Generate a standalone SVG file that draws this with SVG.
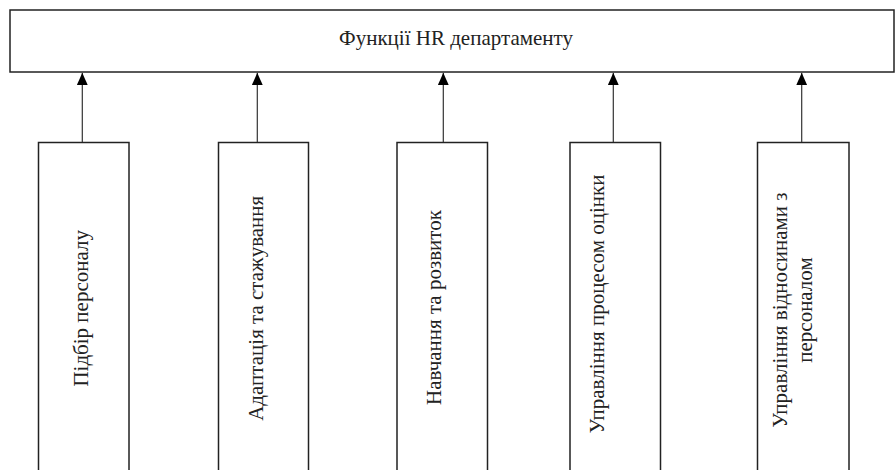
<svg xmlns="http://www.w3.org/2000/svg" width="895" height="470" viewBox="0 0 895 470">
  <style>
    .box { fill: #ffffff; stroke: #222222; stroke-width: 1.5; }
    .lbl { font-family: "Liberation Serif", "Times New Roman", serif; font-size: 21px; fill: #222222; text-anchor: middle; }
    .conn { stroke: #333333; stroke-width: 1.2; fill: none; marker-end: url(#arr); }
  </style>
  <defs>
    <marker id="arr" viewBox="0 0 12.5 11" refX="12.5" refY="5.5" markerWidth="12.5" markerHeight="11" markerUnits="userSpaceOnUse" orient="auto">
      <path d="M0,0 L12.5,5.5 L0,11 Z" fill="#000000"/>
    </marker>
  </defs>
  <rect width="895" height="470" fill="#ffffff"/>

  <g id="top">
    <rect class="box" x="10" y="10" width="884" height="62"/>
    <text class="lbl" x="456" y="45">Функції HR департаменту</text>
  </g>

  <g id="n1">
    <rect class="box" x="38.5" y="142.5" width="90.5" height="360"/>
    <text class="lbl" transform="translate(88,308.3) rotate(-90)">Підбір персоналу</text>
  </g>
  <g id="n2">
    <rect class="box" x="218.5" y="142.5" width="90" height="360"/>
    <text class="lbl" transform="translate(263,308.3) rotate(-90)">Адаптація та стажування</text>
  </g>
  <g id="n3">
    <rect class="box" x="397" y="142.5" width="90.5" height="360"/>
    <text class="lbl" transform="translate(440.5,307.5) rotate(-90)">Навчання та розвиток</text>
  </g>
  <g id="n4">
    <rect class="box" x="570" y="142.5" width="90.5" height="360"/>
    <text class="lbl" transform="translate(603.5,304) rotate(-90)">Управління процесом оцінки</text>
  </g>
  <g id="n5">
    <rect class="box" x="757.5" y="142.5" width="91.5" height="360"/>
    <text class="lbl" transform="translate(786.5,310) rotate(-90)">Управління відносинами з</text>
    <text class="lbl" transform="translate(811.5,310) rotate(-90)">персоналом</text>
  </g>

  <g id="connectors">
    <line class="conn" x1="82.3" y1="142" x2="82.3" y2="72.8"/>
    <line class="conn" x1="257.3" y1="142" x2="257.3" y2="72.8"/>
    <line class="conn" x1="443.3" y1="142" x2="443.3" y2="72.8"/>
    <line class="conn" x1="613.3" y1="142" x2="613.3" y2="72.8"/>
    <line class="conn" x1="801.7" y1="142" x2="801.7" y2="72.8"/>
  </g>
</svg>
